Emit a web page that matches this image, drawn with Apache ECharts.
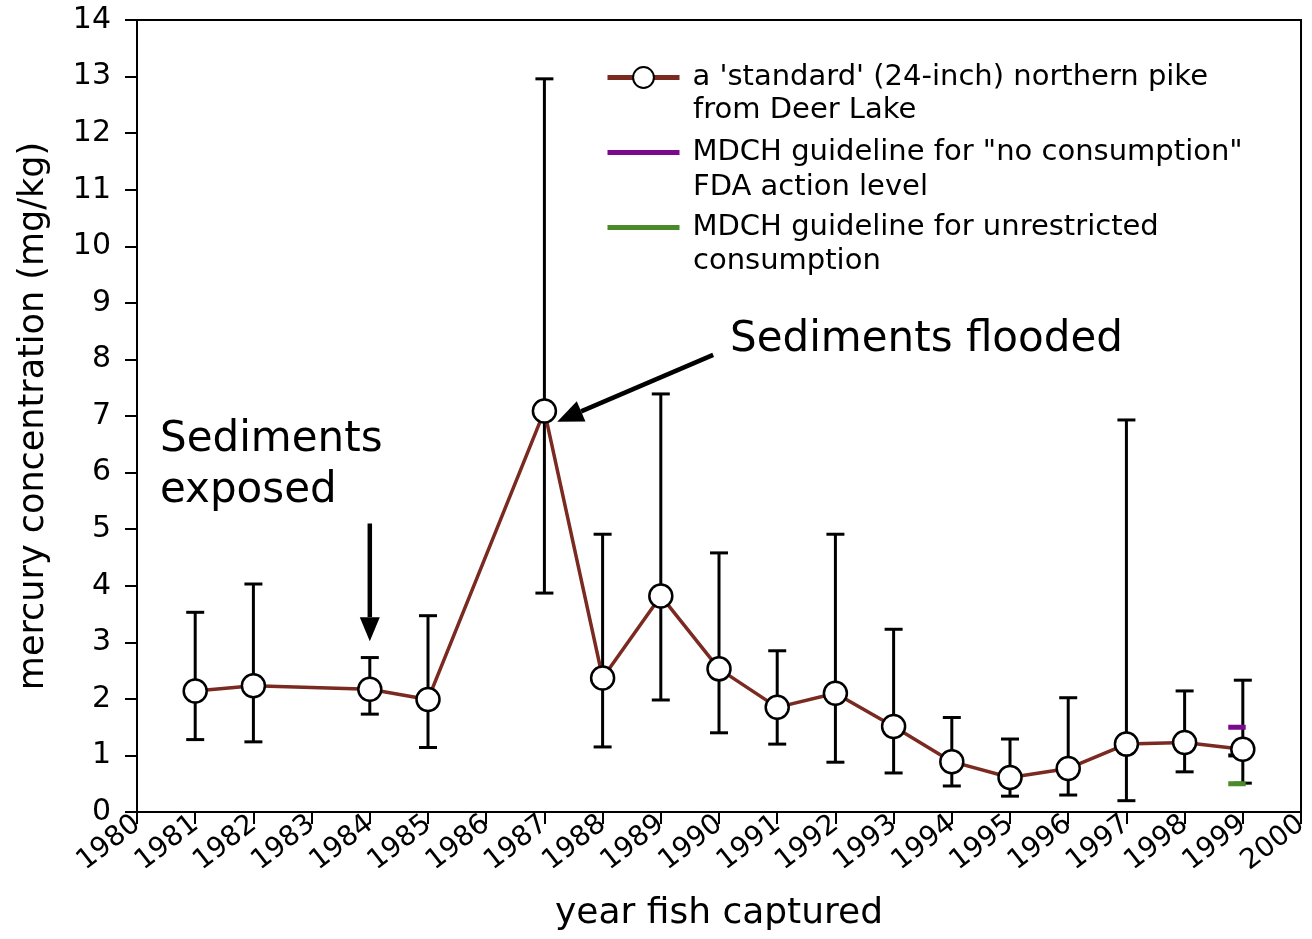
<!DOCTYPE html>
<html>
<head>
<meta charset="utf-8">
<script src="https://cdn.jsdelivr.net/npm/echarts@6/dist/echarts.min.js"></script>
<style>
html,body{margin:0;padding:0;background:#fff;}
#chart{width:1312px;height:939px;}
</style>
</head>
<body>
<div id="chart"></div>
<script>
// ---- data ----
const years   = [1981, 1982, 1984, 1985, 1987, 1988, 1989, 1990, 1991, 1992, 1993, 1994, 1995, 1996, 1997, 1998, 1999];
const means   = [2.14, 2.23, 2.17, 1.99, 7.09, 2.37, 3.82, 2.53, 1.85, 2.10, 1.51, 0.89, 0.61, 0.77, 1.20, 1.23, 1.11];
const upper   = [3.53, 4.03, 2.73, 3.47, 12.96, 4.91, 7.39, 4.58, 2.85, 4.91, 3.23, 1.67, 1.29, 2.02, 6.93, 2.14, 2.33];
const lower   = [1.28, 1.24, 1.73, 1.14, 3.87, 1.15, 1.98, 1.40, 1.20, 0.88, 0.69, 0.46, 0.28, 0.30, 0.20, 0.71, 0.51];
const guidelineYears = [1998.75, 1999.05];
const noConsumption = 1.5;   // MDCH "no consumption"
const fdaLevel = 1.0;        // FDA action level
const unrestricted = 0.5;    // MDCH unrestricted
const yTicks = [0, 14, 1];
const xTicks = [1980, 2000, 1];

const seriesNames = [
  "a 'standard' (24-inch) northern pike",
  'MDCH guideline for "no consumption"',
  'MDCH guideline for unrestricted'
];

const FONT = '"DejaVu Sans", Verdana, sans-serif';
const chart = echarts.init(document.getElementById('chart'));

const errData = years.map((y, i) => [y, lower[i], upper[i]]);
const meanData = years.map((y, i) => [y, means[i]]);
const seg = v => guidelineYears.map(x => [x, v]);

chart.setOption({
  animation: false,
  backgroundColor: '#fff',
  grid: { left: 137, right: 9, top: 20, bottom: 127, show: true, borderColor: '#000', borderWidth: 2, backgroundColor: 'transparent' },
  xAxis: {
    type: 'value', min: xTicks[0], max: xTicks[1], interval: xTicks[2],
    name: 'year fish captured', nameLocation: 'middle', nameGap: 84,
    nameTextStyle: { fontFamily: FONT, fontSize: 36, color: '#000' },
    axisLine: { lineStyle: { color: '#000', width: 2 } },
    axisTick: { inside: false, length: 12, lineStyle: { color: '#000', width: 2 } },
    axisLabel: { rotate: 38, margin: 9, fontFamily: FONT, fontSize: 28, color: '#000', formatter: v => String(v) },
    splitLine: { show: false }
  },
  yAxis: {
    type: 'value', min: yTicks[0], max: yTicks[1], interval: yTicks[2],
    name: 'mercury concentration (mg/kg)', nameLocation: 'middle', nameGap: 86,
    nameTextStyle: { fontFamily: FONT, fontSize: 35, color: '#000' },
    axisLine: { lineStyle: { color: '#000', width: 2 } },
    axisTick: { inside: false, length: 12, lineStyle: { color: '#000', width: 2 } },
    axisLabel: { margin: 26, fontFamily: FONT, fontSize: 30, color: '#000' },
    splitLine: { show: false }
  },
  legend: {
    data: [
      { name: seriesNames[0], lineStyle: { width: 5 } },
      { name: seriesNames[1], itemStyle: { opacity: 0 }, lineStyle: { width: 5 } },
      { name: seriesNames[2], itemStyle: { opacity: 0 }, lineStyle: { width: 5 } }
    ],
    orient: 'vertical', left: 600, top: 54,
    itemWidth: 72, itemHeight: 26, itemGap: 38,
    textStyle: { fontFamily: FONT, fontSize: 29, color: '#000', lineHeight: 37, padding: [0, 0, 0, 8] },
    selectedMode: false
  },
  series: [
    {
      type: 'custom', name: 'error', z: 1,
      data: errData,
      renderItem: function (params, api) {
        const x = api.value(0);
        const lo = api.coord([x, api.value(1)]);
        const hi = api.coord([x, api.value(2)]);
        const w = 9;
        const st = { stroke: '#000', lineWidth: 3 };
        return {
          type: 'group',
          children: [
            { type: 'line', shape: { x1: lo[0], y1: lo[1], x2: hi[0], y2: hi[1] }, style: st },
            { type: 'line', shape: { x1: hi[0] - w, y1: hi[1], x2: hi[0] + w, y2: hi[1] }, style: st },
            { type: 'line', shape: { x1: lo[0] - w, y1: lo[1], x2: lo[0] + w, y2: lo[1] }, style: st }
          ]
        };
      }
    },
    {
      type: 'line', name: seriesNames[0], z: 5,
      data: meanData,
      symbol: 'circle', symbolSize: 23,
      itemStyle: { color: '#fff', borderColor: '#000', borderWidth: 2.5 },
      lineStyle: { color: '#7a2a20', width: 3.5 }
    },
    {
      type: 'line', name: seriesNames[1], z: 3,
      data: seg(noConsumption), symbol: 'none',
      itemStyle: { color: '#7a0a8c' },
      lineStyle: { color: '#7a0a8c', width: 5 }
    },
    {
      type: 'line', name: 'FDA action level', z: 3,
      data: seg(fdaLevel), symbol: 'none',
      itemStyle: { color: '#000' },
      lineStyle: { color: '#000', width: 4 }
    },
    {
      type: 'line', name: seriesNames[2], z: 3,
      data: seg(unrestricted), symbol: 'none',
      itemStyle: { color: '#4a8a2a' },
      lineStyle: { color: '#4a8a2a', width: 5 }
    }
  ]
});

// annotations
function arrow(from, to, width, headLen, headW) {
  const a = chart.convertToPixel({ gridIndex: 0 }, from);
  const b = chart.convertToPixel({ gridIndex: 0 }, to);
  const dx = b[0] - a[0], dy = b[1] - a[1];
  const L = Math.sqrt(dx * dx + dy * dy);
  const ux = dx / L, uy = dy / L;
  const bx = b[0] - ux * headLen, by = b[1] - uy * headLen;
  const px = -uy, py = ux;
  return [
    { type: 'line', shape: { x1: a[0], y1: a[1], x2: bx, y2: by }, style: { stroke: '#000', lineWidth: width } },
    { type: 'polygon', shape: { points: [[b[0], b[1]], [bx + px * headW / 2, by + py * headW / 2], [bx - px * headW / 2, by - py * headW / 2]] }, style: { fill: '#000' } }
  ];
}
const txt = (x, y, s, size) => ({ type: 'text', x: x, y: y, style: { text: s, fontFamily: FONT, fontSize: size, fill: '#000', textVerticalAlign: 'middle' } });

chart.setOption({
  graphic: [
    txt(160, 440, 'Sediments', 42),
    txt(160, 491, 'exposed', 42),
    txt(730, 340, 'Sediments flooded', 42),
    txt(693, 110, 'from Deer Lake', 29),
    txt(693, 187, 'FDA action level', 29),
    txt(693, 261, 'consumption', 29),
    ...arrow([1984, 5.1], [1984, 3.02], 4.5, 24, 20),
    ...arrow([1989.9, 8.08], [1987.22, 6.9], 4.5, 26, 22)
  ]
});
</script>
</body>
</html>
